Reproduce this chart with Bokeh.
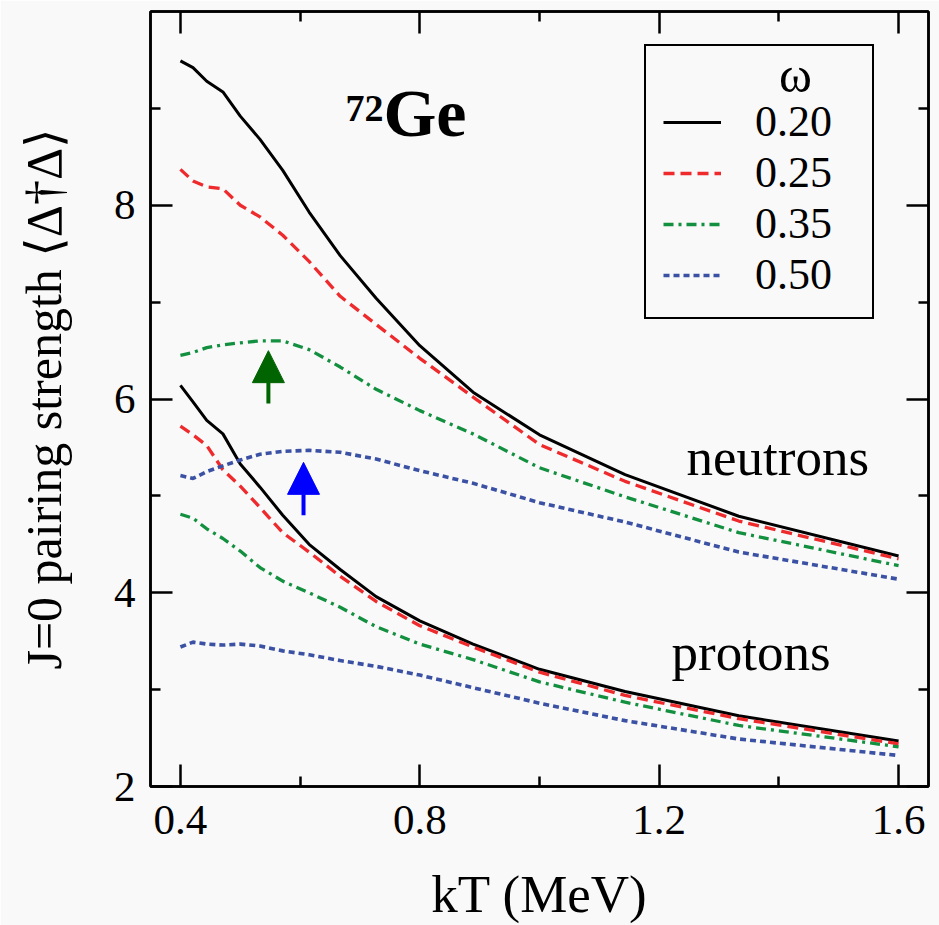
import numpy as np
from bokeh.plotting import figure
from bokeh.models import (Range1d, FixedTicker, LinearAxis, Legend, LegendItem,
                          Label, Arrow, NormalHead)
from bokeh.embed import file_html
from bokeh.resources import INLINE

# ---------------- data ----------------
kT = [0.4, 0.421, 0.444, 0.471, 0.5, 0.533, 0.571, 0.615, 0.667, 0.727,
      0.8, 0.889, 1.0, 1.143, 1.333, 1.6]
omega_labels = ["0.20", "0.25", "0.35", "0.50"]

neutrons_020 = [9.49, 9.42, 9.28, 9.17, 8.92, 8.68, 8.36, 7.93, 7.48, 7.04,
                6.55, 6.07, 5.63, 5.22, 4.79, 4.38]
neutrons_025 = [8.37, 8.25, 8.19, 8.17, 8.00, 7.88, 7.69, 7.42, 7.06, 6.77,
                6.42, 6.02, 5.53, 5.15, 4.74, 4.35]
neutrons_035 = [6.45, 6.48, 6.53, 6.56, 6.58, 6.60, 6.60, 6.51, 6.33, 6.10,
                5.88, 5.64, 5.29, 4.99, 4.62, 4.28]
neutrons_050 = [5.21, 5.18, 5.25, 5.31, 5.37, 5.43, 5.46, 5.47, 5.45, 5.38,
                5.26, 5.13, 4.93, 4.73, 4.42, 4.14]

protons_020 = [6.14, 5.97, 5.78, 5.64, 5.33, 5.09, 4.80, 4.50, 4.24, 3.96,
               3.71, 3.47, 3.21, 2.98, 2.73, 2.47]
protons_025 = [5.72, 5.63, 5.52, 5.27, 5.10, 4.88, 4.62, 4.42, 4.17, 3.91,
               3.66, 3.44, 3.18, 2.94, 2.70, 2.44]
protons_035 = [4.81, 4.77, 4.66, 4.56, 4.43, 4.26, 4.12, 4.00, 3.85, 3.65,
               3.47, 3.31, 3.08, 2.87, 2.63, 2.41]
protons_050 = [3.44, 3.49, 3.47, 3.46, 3.47, 3.45, 3.40, 3.36, 3.30, 3.24,
               3.15, 3.02, 2.86, 2.68, 2.49, 2.32]

x_ticks = [0.4, 0.8, 1.2, 1.6]
x_minor = [0.6, 1.0, 1.4]
y_ticks = [2, 4, 6, 8]
y_minor = [3, 5, 7, 9]

# ---------------- styling ----------------
FONT = "Liberation Serif"
BG = "#f9f9f9"
styles = [
    dict(line_color="black", line_width=3.0, line_dash="solid"),
    dict(line_color="#ee2a2c", line_width=3.3, line_dash="11 6"),
    dict(line_color="#13903f", line_width=3.3, line_dash="10 5 3 5"),
    dict(line_color="#3b51a3", line_width=3.6, line_dash="6 4"),
]

p = figure(width=939, height=925, x_range=Range1d(0.35, 1.65),
           y_range=Range1d(2, 10), output_backend="svg",
           toolbar_location=None, min_border_left=150, min_border_right=11,
           min_border_top=11, min_border_bottom=137)
p.background_fill_color = BG
p.border_fill_color = BG
p.outline_line_color = "black"
p.outline_line_width = 2.5
p.grid.visible = False

neutrons = [neutrons_020, neutrons_025, neutrons_035, neutrons_050]
protons = [protons_020, protons_025, protons_035, protons_050]
items = []
for lab, n, pr, st in zip(omega_labels, neutrons, protons, styles):
    rn = p.line(kT, n, line_cap="butt", **st)
    p.line(kT, pr, line_cap="butt", **st)
    items.append(LegendItem(label=lab, renderers=[rn]))

# axes
def style_axis(ax, ticks, minor, show_labels=True):
    ax.ticker = FixedTicker(ticks=ticks, minor_ticks=minor)
    ax.axis_line_width = 2.5
    ax.major_tick_line_width = 2.5
    ax.minor_tick_line_width = 2.5
    ax.major_tick_in = 22
    ax.major_tick_out = 0
    ax.minor_tick_in = 10
    ax.minor_tick_out = 0
    ax.axis_line_color = "black"
    ax.major_tick_line_color = "black"
    ax.minor_tick_line_color = "black"
    if show_labels:
        ax.major_label_text_font = FONT
        ax.major_label_text_font_size = "43px"
        ax.major_label_text_color = "black"
        ax.axis_label_text_font = FONT
        ax.axis_label_text_font_style = "normal"
        ax.axis_label_text_color = "black"
    else:
        ax.major_label_text_font_size = "0px"
        ax.major_label_standoff = 0
        ax.major_label_overrides = {t: "" for t in ticks}

xa = p.xaxis[0]
ya = p.yaxis[0]
style_axis(xa, x_ticks, x_minor)
style_axis(ya, y_ticks, y_minor)
xa.major_label_standoff = 19
ya.major_label_standoff = 15
xa.axis_label = "kT (MeV)"
xa.axis_label_text_font_size = "53px"
xa.axis_label_standoff = 28
ya.axis_label = "J=0 pairing strength ⟨Δ†Δ⟩"
ya.axis_label_text_font = "Liberation Serif, DejaVu Serif, serif"
ya.axis_label_text_font_size = "50px"
ya.axis_label_standoff = 39

top_ax = LinearAxis()
right_ax = LinearAxis()
style_axis(top_ax, x_ticks, x_minor, show_labels=False)
style_axis(right_ax, y_ticks, y_minor, show_labels=False)
p.add_layout(top_ax, "above")
p.add_layout(right_ax, "right")

# legend
legend = Legend(items=items, location=(494, 467), title="ω",
                title_text_font=FONT, title_text_font_size="24px",
                title_text_alpha=0.0, title_standoff=6,
                label_text_font=FONT, label_text_font_size="44px",
                label_text_color="black",
                glyph_width=58, glyph_height=20, label_standoff=34,
                label_width=100, padding=17, spacing=0, margin=0,
                border_line_color="black", border_line_width=2,
                border_line_alpha=1.0,
                background_fill_color=BG, background_fill_alpha=0.0)
p.add_layout(legend)

def text_label(x, y, text, size, style="normal", align="left"):
    p.add_layout(Label(x=x, y=y, text=text, text_font=FONT,
                       text_font_size=size, text_font_style=style,
                       text_color="black", text_align=align,
                       text_baseline="bottom"))

text_label(1.4278, 9.055, "ω", "50px", align="center")
text_label(0.6758, 8.865, "72", "38px", "bold")
text_label(0.7393, 8.562, "Ge", "68px", "bold")
text_label(1.2456, 5.105, "neutrons", "53px")
text_label(1.2206, 3.087, "protons", "53px")

# arrows
p.add_layout(Arrow(end=NormalHead(size=32, fill_color="#006400",
                                  line_color="#006400", line_width=1),
                   x_start=0.547, y_start=5.954, x_end=0.547, y_end=6.499,
                   line_color="#006400", line_width=4))
p.add_layout(Arrow(end=NormalHead(size=32, fill_color="#0000ff",
                                  line_color="#0000ff", line_width=1),
                   x_start=0.6057, y_start=4.80, x_end=0.6057, y_end=5.346,
                   line_color="#0000ff", line_width=4))

open("out.html", "w").write(file_html(p, INLINE))
